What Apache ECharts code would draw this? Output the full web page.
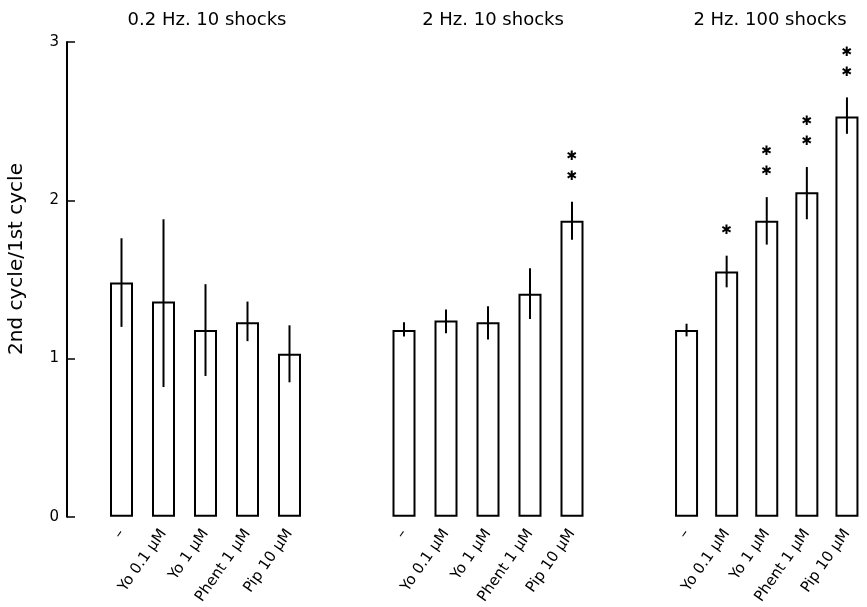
<!DOCTYPE html>
<html>
<head>
<meta charset="utf-8">
<script src="https://cdn.jsdelivr.net/npm/echarts@6/dist/echarts.min.js"></script>
<style>
html,body{margin:0;padding:0;background:#fff;}
#chart{width:867px;height:607px;}
</style>
</head>
<body>
<div id="chart"></div>
<script>
// ---- data ----
const categories = ['–', 'Yo 0.1 μM', 'Yo 1 μM', 'Phent 1 μM', 'Pip 10 μM'];
const panelTitles = ['0.2 Hz. 10 shocks', '2 Hz. 10 shocks', '2 Hz. 100 shocks'];
const yAxisTitle = '2nd cycle/1st cycle';
const yTicks = [0, 1, 2, 3];

const p1Mean = [1.48, 1.36, 1.18, 1.23, 1.03];
const p1Low  = [1.20, 0.82, 0.89, 1.11, 0.85];
const p1High = [1.76, 1.88, 1.47, 1.36, 1.21];
const p1Stars = [0, 0, 0, 0, 0];

const p2Mean = [1.18, 1.24, 1.23, 1.41, 1.87];
const p2Low  = [1.14, 1.16, 1.12, 1.25, 1.75];
const p2High = [1.23, 1.31, 1.33, 1.57, 1.99];
const p2Stars = [0, 0, 0, 0, 2];

const p3Mean = [1.18, 1.55, 1.87, 2.05, 2.53];
const p3Low  = [1.14, 1.45, 1.72, 1.88, 2.42];
const p3High = [1.22, 1.65, 2.02, 2.21, 2.65];
const p3Stars = [0, 1, 2, 2, 2];

const panels = [
  {mean: p1Mean, low: p1Low, high: p1High, stars: p1Stars},
  {mean: p2Mean, low: p2Low, high: p2High, stars: p2Stars},
  {mean: p3Mean, low: p3Low, high: p3High, stars: p3Stars}
];

// ---- layout ----
const WIDE = 'DejaVu Sans, Verdana, sans-serif';
const gridLefts = [100.5, 383, 666.5];
const gridCenters = [207, 493, 770];
const bandW = 42;
const gridTop = 42, gridBottomY = 519.5;

const chart = echarts.init(document.getElementById('chart'), null, {renderer: 'canvas'});

const grids = [], xAxes = [], yAxes = [], series = [], titles = [];
panels.forEach((p, i) => {
  grids.push({left: gridLefts[i], top: gridTop, width: bandW * categories.length, height: gridBottomY - gridTop, containLabel: false});
  titles.push({
    text: panelTitles[i], left: gridCenters[i], top: 11, textAlign: 'center', padding: 0,
    textStyle: {fontFamily: WIDE, fontSize: 18, fontWeight: 'normal', color: '#000'}
  });
  xAxes.push({
    type: 'category', gridIndex: i, data: categories,
    axisLine: {show: false}, axisTick: {show: false},
    axisLabel: {rotate: 55, margin: 14, fontFamily: WIDE, fontSize: 15, color: '#000', interval: 0}
  });
  yAxes.push({
    type: 'value', gridIndex: i, min: 0, max: 3, interval: 1,
    show: i === 0,
    offset: i === 0 ? (gridLefts[0] - 67) : 0,
    axisLine: {show: true, lineStyle: {color: '#000', width: 2}},
    axisTick: {show: true, inside: true, length: 8, lineStyle: {color: '#000', width: 1.5}},
    axisLabel: {margin: 8, fontFamily: WIDE, fontSize: 15, color: '#000',
      formatter: v => yTicks.includes(v) ? String(v) : ''},
    splitLine: {show: false}
  });
  series.push({
    type: 'bar', xAxisIndex: i, yAxisIndex: i, data: p.mean, barWidth: 23,
    itemStyle: {color: '#fff', borderColor: '#000', borderWidth: 2},
    emphasis: {disabled: true}, animation: false, z: 2
  });
  series.push({
    type: 'custom', xAxisIndex: i, yAxisIndex: i, z: 5, animation: false,
    data: p.mean.map((m, k) => [k, p.low[k], p.high[k], p.stars[k]]),
    encode: {x: 0, y: [1, 2]},
    renderItem: (params, api) => {
      const idx = api.value(0);
      const lo = api.coord([idx, api.value(1)]);
      const hi = api.coord([idx, api.value(2)]);
      const n = api.value(3);
      const children = [{
        type: 'line',
        shape: {x1: hi[0], y1: lo[1], x2: hi[0], y2: hi[1]},
        style: {stroke: '#000', lineWidth: 2}
      }];
      for (let s = 0; s < n; s++) {
        children.push({
          type: 'text',
          style: {
            text: '✱', x: hi[0], y: hi[1] - 25 - s * 20,
            align: 'center', verticalAlign: 'middle',
            fontFamily: 'DejaVu Sans', fontSize: 13, fontWeight: 'bold', fill: '#000'
          }
        });
      }
      return {type: 'group', children};
    }
  });
});

chart.setOption({
  animation: false,
  backgroundColor: '#fff',
  title: titles,
  grid: grids,
  xAxis: xAxes,
  yAxis: yAxes,
  series: series,
  graphic: [{
    type: 'text', x: 17, y: 259, rotation: Math.PI / 2,
    style: {text: yAxisTitle, align: 'center', verticalAlign: 'middle',
      fontFamily: WIDE, fontSize: 20, fill: '#000'}
  }]
});
</script>
</body>
</html>
